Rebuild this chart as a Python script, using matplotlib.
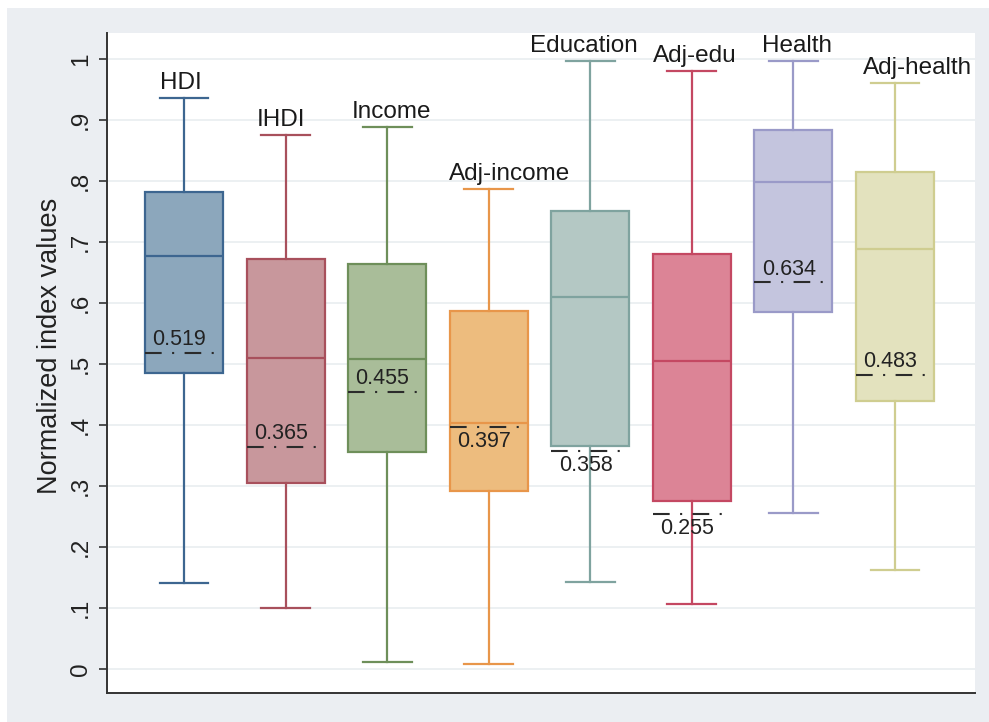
import matplotlib
matplotlib.use('Agg')
import matplotlib.pyplot as plt
from matplotlib.patches import Rectangle

plt.rcParams['font.family'] = ['Liberation Sans', 'DejaVu Sans']

# ---------------- data ----------------
categories = ['HDI', 'IHDI', 'Income', 'Adj-income', 'Education', 'Adj-edu', 'Health', 'Adj-health']
whisker_low = [0.141, 0.100, 0.012, 0.008, 0.143, 0.107, 0.256, 0.162]
q1 = [0.485, 0.305, 0.356, 0.292, 0.366, 0.275, 0.586, 0.439]
median = [0.677, 0.510, 0.508, 0.403, 0.611, 0.505, 0.799, 0.689]
q3 = [0.782, 0.672, 0.664, 0.587, 0.752, 0.680, 0.884, 0.815]
whisker_high = [0.936, 0.875, 0.889, 0.787, 0.997, 0.980, 0.997, 0.961]
ref_values = [0.519, 0.365, 0.455, 0.397, 0.358, 0.255, 0.634, 0.483]
ref_labels = ['0.519', '0.365', '0.455', '0.397', '0.358', '0.255', '0.634', '0.483']
yticks = [0, 0.1, 0.2, 0.3, 0.4, 0.5, 0.6, 0.7, 0.8, 0.9, 1.0]
ytick_labels = ['0', '.1', '.2', '.3', '.4', '.5', '.6', '.7', '.8', '.9', '1']
ylabel = 'Normalized index values'

# ---------------- styles / layout ----------------
fill_colors = ['#8CA7BC', '#C8979C', '#A9BD99', '#EDBC7E', '#B4C8C4', '#DC8496', '#C4C5DE', '#E3E2BE']
edge_colors = ['#3D6690', '#A8505C', '#6E8F5A', '#E8964A', '#7FA39F', '#C44862', '#9A9AC8', '#CFCD90']
cat_label_dx = [-0.03, -0.04, 0.04, 0.21, -0.06, 0.03, 0.04, 0.22]   # x offsets (data units)
ref_label_above = [True, True, True, False, False, False, True, True]

W, H = 989, 722
fig = plt.figure(figsize=(W / 100, H / 100), dpi=100, facecolor='white')
fig.patches.append(Rectangle((7 / W, 0), 1, (H - 8) / H, transform=fig.transFigure,
                             facecolor='#EBEEF2', edgecolor='none', zorder=-10))

ax = fig.add_axes([107 / W, 1 - 693 / H, (975 - 107) / W, (693 - 33) / H])
ax.set_facecolor('white')

positions = list(range(1, len(categories) + 1))
stats = []
for i, name in enumerate(categories):
    stats.append(dict(label=name, med=median[i], q1=q1[i], q3=q3[i],
                      whislo=whisker_low[i], whishi=whisker_high[i], fliers=[]))

bp = ax.bxp(stats, positions=positions, widths=0.768, capwidths=0.48,
            patch_artist=True, showfliers=False, manage_ticks=False)

for i in range(len(categories)):
    fc, ec = fill_colors[i], edge_colors[i]
    bp['boxes'][i].set(facecolor=fc, edgecolor=ec, linewidth=1.6)
    bp['medians'][i].set(color=ec, linewidth=1.6)
    for k in (2 * i, 2 * i + 1):
        bp['whiskers'][k].set(color=ec, linewidth=1.6)
        bp['caps'][k].set(color=ec, linewidth=1.6)

# reference dash-dot lines with labels
for i, v in enumerate(ref_values):
    c = positions[i]
    ax.plot([c - 0.384, c + 0.295], [v, v], color='#2b2b2b', lw=1.5,
            ls=(0, (8, 5, 1, 5)), zorder=5, dash_capstyle='butt')
    if ref_label_above[i]:
        ax.annotate(ref_labels[i], (c - 0.045, v), xytext=(0, 2), textcoords='offset points',
                    ha='center', va='bottom', fontsize=15.5, color='#222222', zorder=6)
    else:
        ax.annotate(ref_labels[i], (c - 0.045, v), xytext=(0, -3), textcoords='offset points',
                    ha='center', va='top', fontsize=15.5, color='#222222', zorder=6)

# category labels above upper whiskers
for i, name in enumerate(categories):
    ax.annotate(name, (positions[i] + cat_label_dx[i], whisker_high[i]), xytext=(0, 3),
                textcoords='offset points', ha='center', va='bottom', fontsize=17.5,
                color='#1a1a1a')

ax.set_xlim(0.242, 8.788)
ax.set_ylim(-0.039, 1.043)
ax.set_xticks([])
ax.set_yticks(yticks)
ax.set_yticklabels(ytick_labels, rotation=90, va='center')
ax.tick_params(axis='y', length=6, width=1.1, pad=5, labelsize=17.5, colors='#222222')
ax.yaxis.grid(True, color='#E9EDF0', lw=1.2)
ax.set_axisbelow(True)
for s in ('top', 'right'):
    ax.spines[s].set_visible(False)
for s in ('left', 'bottom'):
    ax.spines[s].set_color('#333333')
    ax.spines[s].set_linewidth(1.4)
ax.set_ylabel(ylabel, fontsize=19.5, color='#222222')
ax.yaxis.set_label_coords(-0.0507, 0.526)

fig.savefig('out.png', dpi=100, facecolor='white')
